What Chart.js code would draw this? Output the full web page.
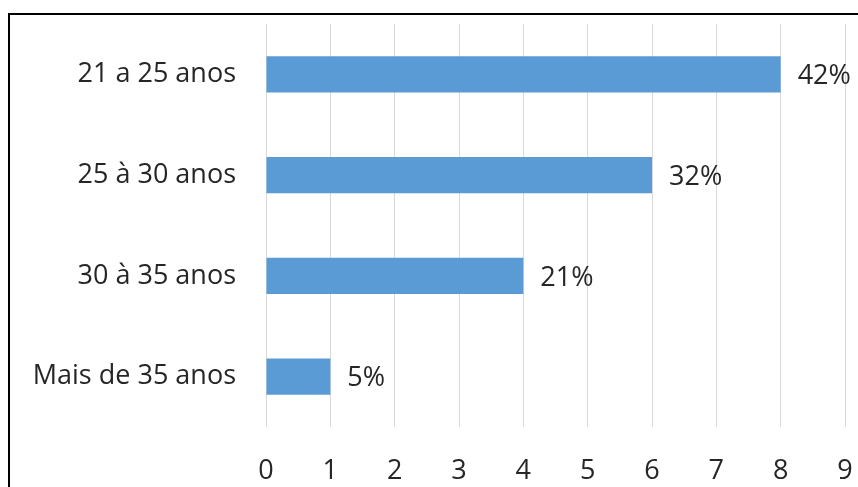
<!DOCTYPE html>
<html>
<head>
<meta charset="utf-8">
<script src="https://cdn.jsdelivr.net/npm/chart.js@4"></script>
<style>
  html, body { margin: 0; padding: 0; background: #fff; }
  #wrap { position: relative; width: 858px; height: 487px; overflow: hidden; }
  #frame { position: absolute; left: 8px; top: 13px; width: 900px; height: 500px;
           border-left: 2px solid #000; border-top: 2px solid #000; }
  canvas { position: absolute; left: 0; top: 0; }
</style>
</head>
<body>
<div id="wrap">
  <div id="frame"></div>
  <canvas id="ageChart" width="858" height="487"></canvas>
</div>
<script>
const categories = ['21 a 25 anos', '25 à 30 anos', '30 à 35 anos', 'Mais de 35 anos'];
const counts = [8, 6, 4, 1];
const percentLabels = ['42%', '32%', '21%', '5%'];
const xTicks = [0, 1, 2, 3, 4, 5, 6, 7, 8, 9];

const fontFamily = '"Open Sans", sans-serif';

// writes the percentage just right of each bar
const barLabels = {
  id: 'barLabels',
  afterDatasetsDraw(chart) {
    const ctx = chart.ctx;
    const meta = chart.getDatasetMeta(0);
    ctx.save();
    ctx.font = '27px ' + fontFamily;
    ctx.fillStyle = '#262626';
    ctx.textAlign = 'left';
    ctx.textBaseline = 'middle';
    meta.data.forEach((bar, i) => {
      ctx.fillText(percentLabels[i], bar.x + 17, bar.y + 2);
    });
    ctx.restore();
  }
};

const ageCtx = document.getElementById('ageChart').getContext('2d');
new Chart(ageCtx, {
  type: 'bar',
  data: {
    labels: categories,
    datasets: [{
      data: counts,
      backgroundColor: '#5B9BD5',
      borderWidth: 0,
      categoryPercentage: 1,
      barPercentage: 0.36
    }]
  },
  options: {
    indexAxis: 'y',
    responsive: false,
    animation: false,
    layout: { padding: { top: 24, right: 13, left: 0, bottom: 0 } },
    plugins: { legend: { display: false }, tooltip: { enabled: false } },
    scales: {
      x: {
        min: 0,
        max: 9,
        afterBuildTicks(scale) { scale.ticks = xTicks.map(v => ({ value: v })); },
        grid: { color: '#d9d9d9', lineWidth: 1, drawTicks: false },
        border: { display: false },
        ticks: { padding: 28, color: '#262626', font: { family: fontFamily, size: 27 } },
        afterFit(scale) {
          scale.height = 60;
          scale.paddingLeft = 0;
          scale.paddingRight = 0;
        }
      },
      y: {
        grid: { display: false, drawTicks: false },
        border: { display: false },
        ticks: { padding: 30, color: '#262626', font: { family: fontFamily, size: 27 } },
        afterFit(scale) {
          scale.width = 266;
          scale.paddingTop = 0;
          scale.paddingBottom = 0;
        }
      }
    }
  },
  plugins: [barLabels]
});
</script>
</body>
</html>
